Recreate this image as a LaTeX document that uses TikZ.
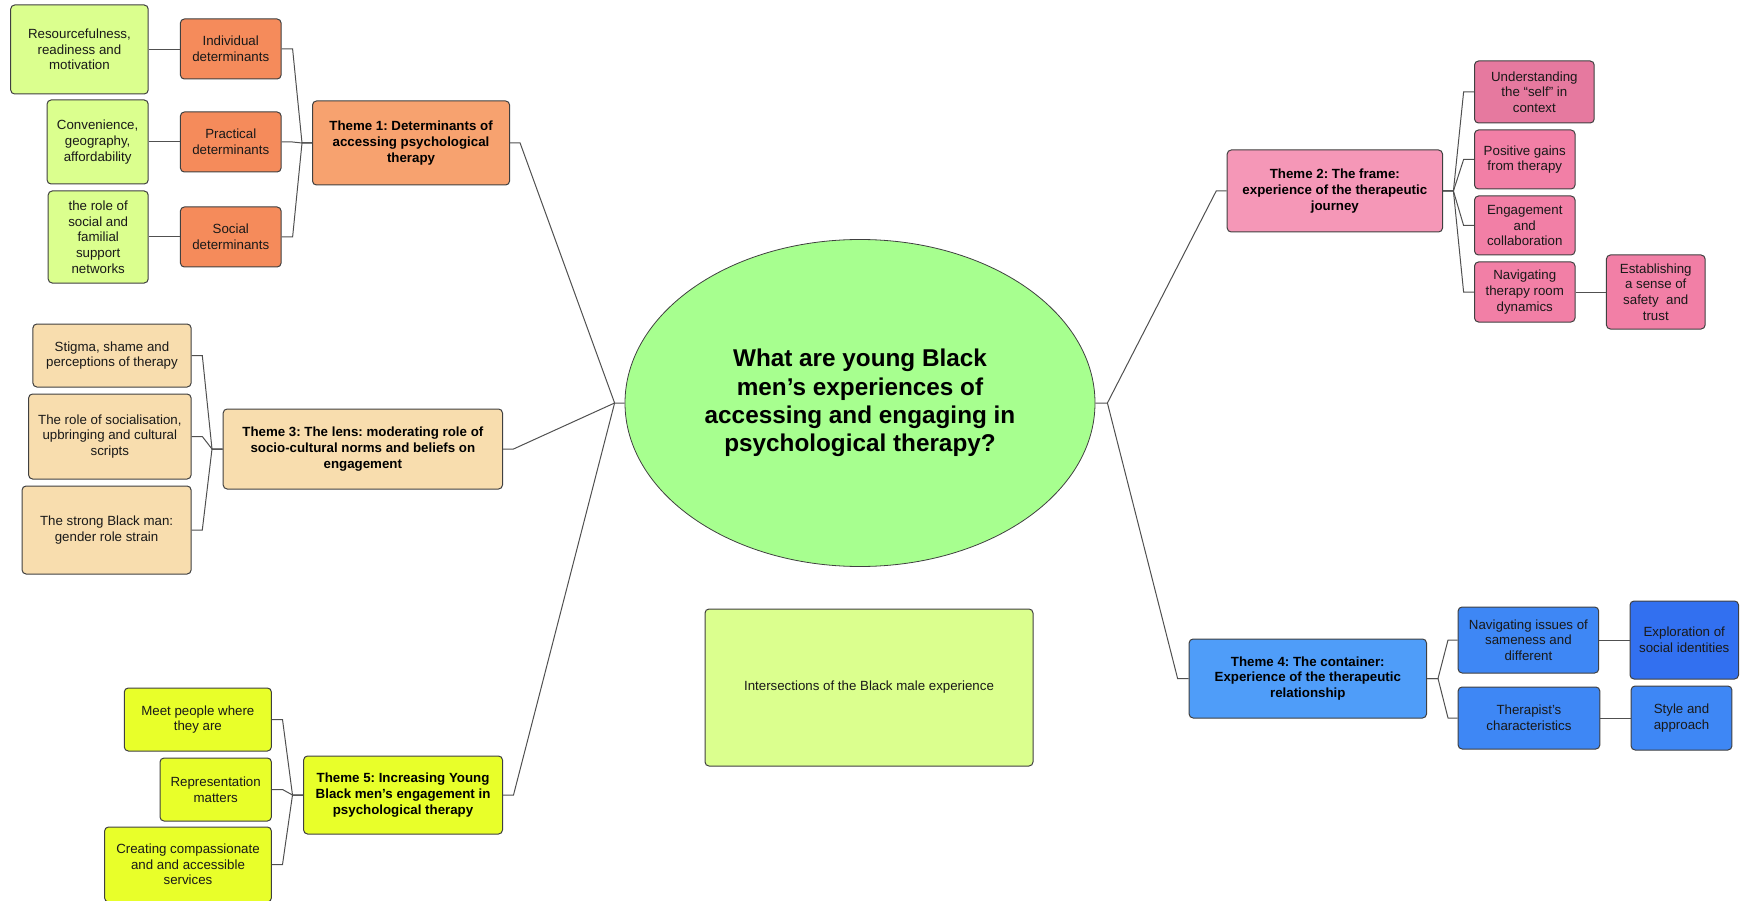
\documentclass[tikz,border=0pt]{standalone}
\usepackage{fontspec}
\setmainfont{Liberation Sans}
\usetikzlibrary{shapes.geometric,calc}
\definecolor{lgreen}{HTML}{DBFF8E}
\definecolor{orangeA}{HTML}{F58B5B}
\definecolor{orangeT}{HTML}{F7A26F}
\definecolor{wheatC}{HTML}{F8DDAE}
\definecolor{yellowC}{HTML}{E8FF2A}
\definecolor{centerC}{HTML}{A7FF8F}
\definecolor{pinkT}{HTML}{F597B7}
\definecolor{pinkD}{HTML}{E6799F}
\definecolor{pinkC}{HTML}{F27FA6}
\definecolor{blueT}{HTML}{4F9DF9}
\definecolor{blueC}{HTML}{3E87F5}
\definecolor{blueD}{HTML}{3270F0}
\definecolor{borderC}{HTML}{404040}
\definecolor{lineC}{HTML}{505050}
\tikzset{
  bx/.style={draw=borderC, line width=1pt, rounded corners=4pt, inner sep=0pt, align=center,
    font=\frenchspacing\fontsize{13.3}{15.7}\selectfont, text=black!90},
  th/.style={bx, font=\frenchspacing\fontsize{13.3}{15.7}\selectfont\bfseries, text=black},
  conn/.style={draw=lineC, line width=1pt},
}
\begin{document}
\begin{tikzpicture}[x=1pt,y=-1pt]
\useasboundingbox (0,0) rectangle (1747,901);
% centre
\node[ellipse, draw=borderC, line width=0.8pt, fill=centerC, minimum width=470, minimum height=327, inner sep=0pt, align=center, font=\fontsize{24.3}{28.3}\selectfont\bfseries] (q) at (860,403) {What are young Black\\men’s experiences of\\accessing and engaging in\\psychological therapy?};
\node[bx, fill=lgreen, minimum width=328, minimum height=157] (inter) at (869,687.5) {Intersections of the Black male experience};
% theme 1
\node[th, fill=orangeT, minimum width=197.1, minimum height=84] (t1) at (411.05,143) {Theme 1: Determinants of\\accessing psychological\\therapy};
\node[bx, fill=orangeA, minimum width=100.7, minimum height=60] (d1) at (230.75,49) {Individual\\determinants};
\node[bx, fill=orangeA, minimum width=100.7, minimum height=60] (d2) at (230.75,142) {Practical\\determinants};
\node[bx, fill=orangeA, minimum width=100.7, minimum height=60] (d3) at (230.75,237) {Social\\determinants};
\node[bx, fill=lgreen, minimum width=137.5, minimum height=89] (r1) at (79.45,49.5) {Resourcefulness,\\readiness and\\motivation};
\node[bx, fill=lgreen, minimum width=101.1, minimum height=84] (r2) at (97.65,142) {Convenience,\\geography,\\affordability};
\node[bx, fill=lgreen, minimum width=100, minimum height=92] (r3) at (98.2,237) {the role of\\social and\\familial\\support\\networks};
% theme 3
\node[th, fill=wheatC, minimum width=279.3, minimum height=80] (t3) at (362.85,449) {Theme 3: The lens: moderating role of\\socio-cultural norms and beliefs on\\engagement};
\node[bx, fill=wheatC, minimum width=158.2, minimum height=63] (s1) at (112,355.5) {Stigma, shame and\\perceptions of therapy};
\node[bx, fill=wheatC, minimum width=162.5, minimum height=85] (s2) at (109.85,436.5) {The role of socialisation,\\upbringing and cultural\\scripts};
\node[bx, fill=wheatC, minimum width=169, minimum height=88] (s3) at (106.6,530) {The strong Black man:\\gender role strain};
% theme 5
\node[th, fill=yellowC, minimum width=198.9, minimum height=78] (t5) at (403.05,795) {Theme 5: Increasing Young\\Black men’s engagement in\\psychological therapy};
\node[bx, fill=yellowC, minimum width=147.1, minimum height=63] (y1) at (197.85,719.5) {Meet people where\\they are};
\node[bx, fill=yellowC, minimum width=111.4, minimum height=63] (y2) at (215.7,789.5) {Representation\\matters};
\node[bx, fill=yellowC, minimum width=166.8, minimum height=75] (y3) at (188,864.5) {Creating compassionate\\and and accessible\\services};
% theme 2
\node[th, fill=pinkT, minimum width=215.3, minimum height=82] (t2) at (1334.85,191) {Theme 2: The frame:\\experience of the therapeutic\\journey};
\node[bx, fill=pinkD, minimum width=119.7, minimum height=62] (p1) at (1534.35,92) {Understanding\\the “self” in\\context};
\node[bx, fill=pinkC, minimum width=100.5, minimum height=59] (p2) at (1524.75,159.5) {Positive gains\\from therapy};
\node[bx, fill=pinkC, minimum width=100.5, minimum height=59] (p3) at (1524.75,225.5) {Engagement\\and\\collaboration};
\node[bx, fill=pinkC, minimum width=100.5, minimum height=60] (p4) at (1524.75,292) {Navigating\\therapy room\\dynamics};
\node[bx, fill=pinkC, minimum width=98.7, minimum height=74] (p5) at (1655.75,292) {Establishing\\a sense of\\safety \ and\\trust};
% theme 4
\node[th, fill=blueT, minimum width=237.4, minimum height=79] (t4) at (1307.8,678.5) {Theme 4: The container:\\Experience of the therapeutic\\relationship};
\node[bx, fill=blueC, minimum width=140.6, minimum height=66] (b1) at (1528.4,640) {Navigating issues of\\sameness and\\different};
\node[bx, fill=blueC, minimum width=141.7, minimum height=62] (b2) at (1528.95,718) {Therapist’s\\characteristics};
\node[bx, fill=blueD, minimum width=108.5, minimum height=78] (b3) at (1684.25,640) {Exploration of\\social identities};
\node[bx, fill=blueC, minimum width=100.8, minimum height=64] (b4) at (1681.5,718) {Style and\\approach};
% connectors: centre
\draw[conn] (t1.east) -- ++(10,0) -- ($(q.west)+(-10,0)$) -- (q.west);
\draw[conn] (t3.east) -- ++(10.5,0) -- ($(q.west)+(-10,0)$);
\draw[conn] (t5.east) -- ++(10.5,0) -- ($(q.west)+(-10,0)$);
\draw[conn] (t2.west) -- ++(-10.5,0) -- ($(q.east)+(12,0)$) -- (q.east);
\draw[conn] (t4.west) -- ++(-11,0) -- ($(q.east)+(12,0)$);
% theme 1 children
\foreach \c in {d1,d2,d3}{
  \draw[conn] (\c.east) -- ++(11,0) -- ($(t1.west)+(-10,0)$) -- (t1.west);
}
\draw[conn] (r1.east) -- (r1.east -| d1.west);
\draw[conn] (r2.east) -- (d2.west);
\draw[conn] (r3.east) -- (d3.west);
% theme 3 children
\foreach \c in {s1,s2,s3}{
  \draw[conn] (\c.east) -- ++(10.7,0) -- ($(t3.west)+(-10.7,0)$) -- (t3.west);
}
% theme 5 children
\foreach \c in {y1,y2,y3}{
  \draw[conn] (\c.east) -- ++(10.6,0) -- ($(t5.west)+(-10.6,0)$) -- (t5.west);
}
% theme 2 children
\foreach \c in {p1,p2,p3,p4}{
  \draw[conn] (t2.east) -- ++(10.4,0) -- ($(\c.west)+(-10.4,0)$) -- (\c.west);
}
\draw[conn] (p4.east) -- (p5.west);
% theme 4 children
\foreach \c in {b1,b2}{
  \draw[conn] (t4.east) -- ++(11,0) -- ($(\c.west)+(-9.6,0)$) -- (\c.west);
}
\draw[conn] (b1.east) -- (b3.west);
\draw[conn] (b2.east) -- (b4.west);
\end{tikzpicture}
\end{document}
